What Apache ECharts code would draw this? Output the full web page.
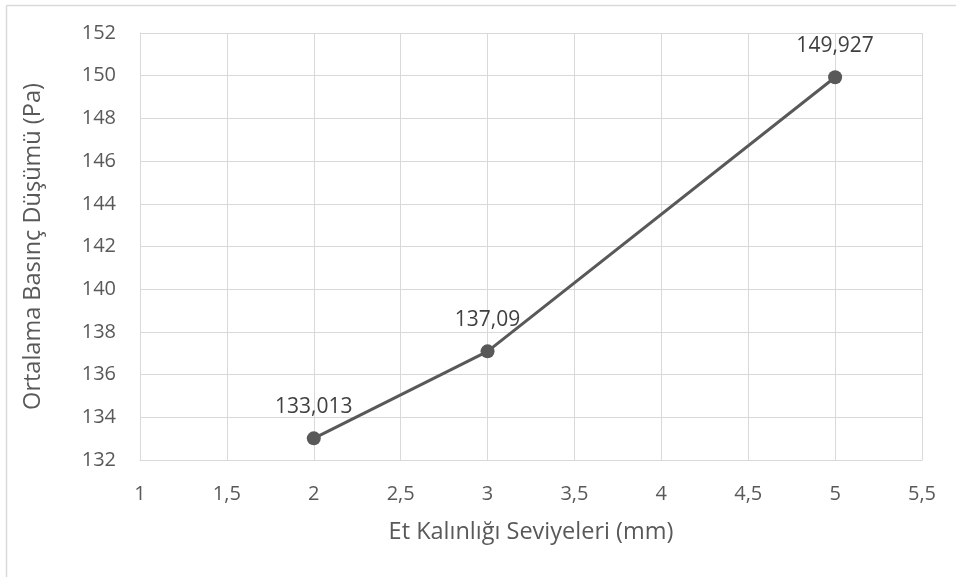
<!DOCTYPE html>
<html>
<head>
<meta charset="utf-8">
<script src="https://cdn.jsdelivr.net/npm/echarts@6/dist/echarts.min.js"></script>
<style>
  html, body { margin: 0; padding: 0; background: #fff; }
  #chart { width: 956px; height: 577px; }
</style>
</head>
<body>
<div id="chart"></div>
<script>
// Wall thickness levels (mm) and mean pressure drop (Pa)
const thickness = [2, 3, 5];
const pressureDrop = [133.013, 137.09, 149.927];
const pointLabels = ['133,013', '137,09', '149,927'];

const xTitle = 'Et Kalınlığı Seviyeleri (mm)';
const yTitle = 'Ortalama Basınç Düşümü (Pa)';

const textColor = '#595959';
const gridColor = '#d9d9d9';
const fontFamily = '"Open Sans", "Liberation Sans", sans-serif';

const commaNum = v => String(v).replace('.', ',');

const chart = echarts.init(document.getElementById('chart'), null, { renderer: 'canvas' });

chart.setOption({
  animation: false,
  backgroundColor: '#fff',
  textStyle: { fontFamily: fontFamily },
  graphic: [
    { type: 'line', shape: { x1: 6.5, y1: 5.5, x2: 956, y2: 5.5 }, style: { stroke: gridColor, lineWidth: 1.5 } },
    { type: 'line', shape: { x1: 6.5, y1: 5.5, x2: 6.5, y2: 577 }, style: { stroke: gridColor, lineWidth: 1.5 } }
  ],
  grid: { left: 140, right: 34, top: 33, bottom: 117, containLabel: false },
  xAxis: {
    type: 'value',
    min: 1, max: 5.5, interval: 0.5,
    name: xTitle,
    nameLocation: 'middle',
    nameGap: 60,
    nameTextStyle: { color: textColor, fontSize: 23.5, fontFamily: fontFamily },
    axisLine: { show: true, lineStyle: { color: gridColor, width: 1 } },
    axisTick: { show: false },
    splitLine: { show: true, lineStyle: { color: gridColor, width: 1 } },
    axisLabel: { color: textColor, fontSize: 20, margin: 24, formatter: commaNum }
  },
  yAxis: {
    type: 'value',
    min: 132, max: 152, interval: 2,
    name: yTitle,
    nameLocation: 'middle',
    nameGap: 95,
    nameRotate: 90,
    nameTextStyle: { color: textColor, fontSize: 23.5, fontFamily: fontFamily },
    axisLine: { show: true, lineStyle: { color: gridColor, width: 1 } },
    axisTick: { show: false },
    splitLine: { show: true, lineStyle: { color: gridColor, width: 1 } },
    axisLabel: { color: textColor, fontSize: 20, margin: 24, formatter: commaNum }
  },
  series: [{
    type: 'line',
    data: thickness.map((x, i) => [x, pressureDrop[i]]),
    lineStyle: { color: '#595959', width: 3 },
    itemStyle: { color: '#595959' },
    symbol: 'circle',
    symbolSize: 14,
    label: {
      show: true,
      position: 'top',
      distance: 14,
      color: '#404040',
      fontSize: 21,
      fontFamily: fontFamily,
      formatter: p => pointLabels[p.dataIndex]
    }
  }]
});
</script>
</body>
</html>
